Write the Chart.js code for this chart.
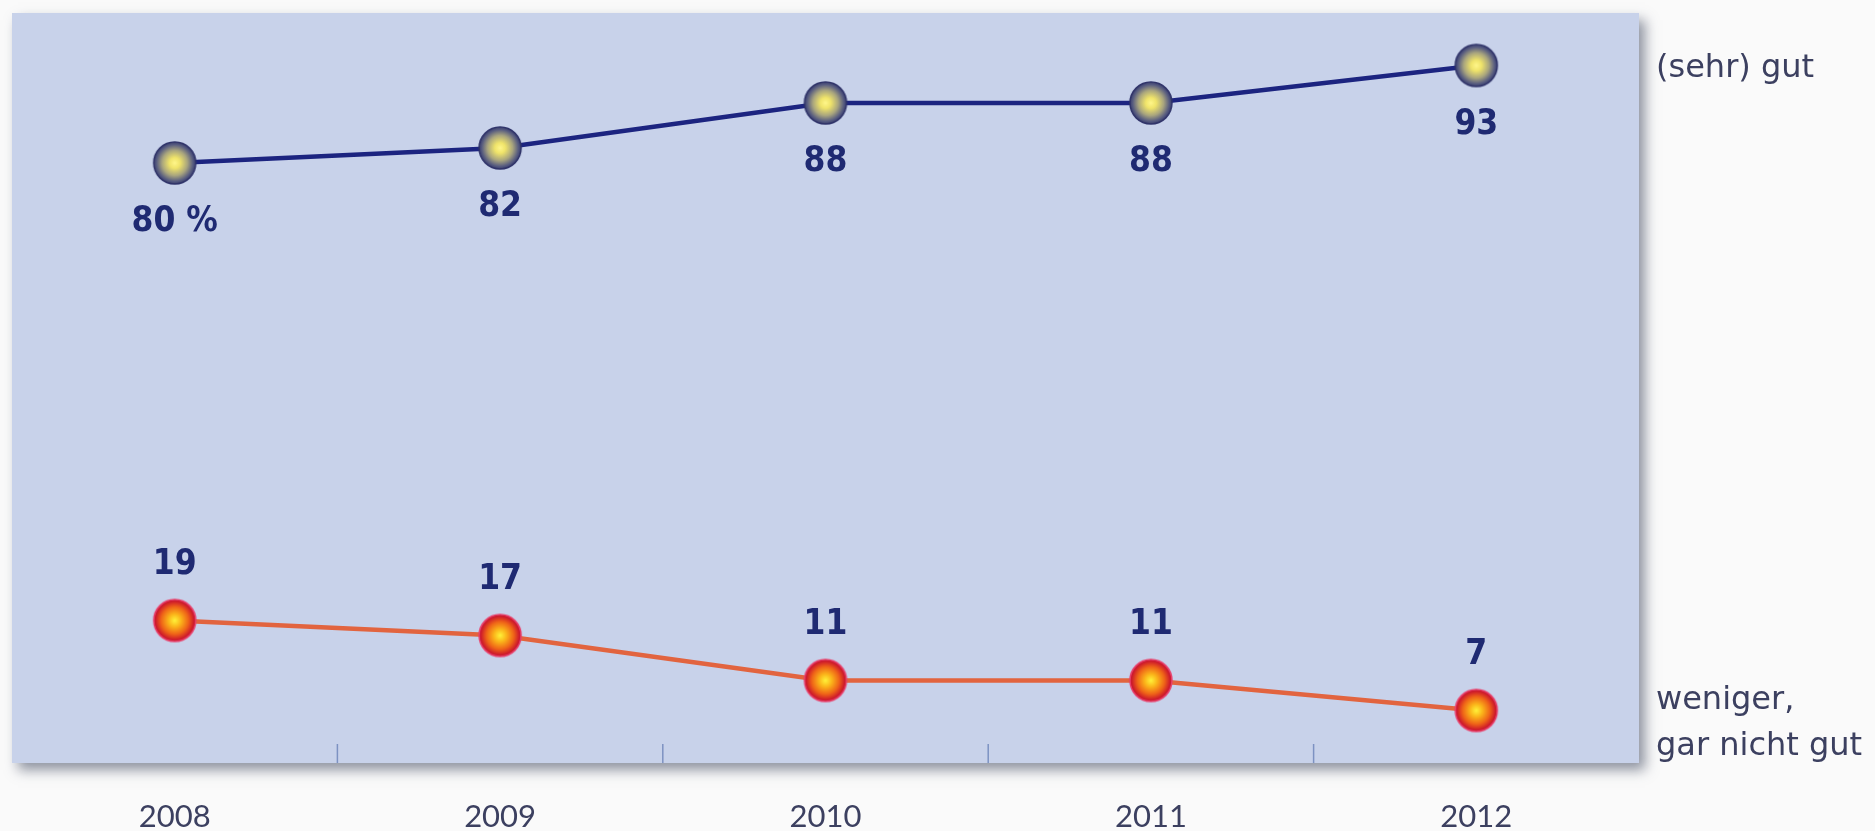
<!DOCTYPE html>
<html>
<head>
<meta charset="utf-8">
<script src="https://cdn.jsdelivr.net/npm/chart.js@4.4.1/dist/chart.umd.min.js"></script>
<style>
  html, body { margin: 0; padding: 0; background: #fafafa; }
  #wrap { width: 1875px; height: 831px; }
</style>
</head>
<body>
<div id="wrap"><canvas id="c" width="1875" height="831"></canvas></div>
<script>
const categories = ['2008', '2009', '2010', '2011', '2012'];
const goodValues = [80, 82, 88, 88, 93];
const poorValues = [19, 17, 11, 11, 7];
const goodName = '(sehr) gut';
const poorName = ['weniger,', 'gar nicht gut'];
const goodSuffix = [' %', '', '', '', ''];
const yMin = 0;
const yMax = 100;

function makeMarker(r, stops, outline) {
  const s = 2 * r + 4;
  const cv = document.createElement('canvas');
  cv.width = s; cv.height = s;
  const g = cv.getContext('2d');
  const c = s / 2;
  const grad = g.createRadialGradient(c, c, 0, c, c, r);
  stops.forEach(([o, col]) => grad.addColorStop(o, col));
  g.beginPath();
  g.arc(c, c, r, 0, Math.PI * 2);
  g.fillStyle = grad;
  g.fill();
  g.lineWidth = 1.5;
  g.strokeStyle = outline;
  g.stroke();
  return cv;
}

const goodMarker = makeMarker(21, [[0, '#fff68a'], [0.25, '#f0e46a'], [0.6, '#a9a57e'], [0.88, '#555a80'], [1, '#3a3e6c']], '#30346a');
const poorMarker = makeMarker(21, [[0, '#fff23a'], [0.3, '#fbb51a'], [0.65, '#ef6418'], [0.9, '#d01e2a'], [1, '#c2143a']], '#e8406a');

const LABEL_FONT = 'bold 35px "Liberation Sans Narrow", "DejaVu Sans Condensed", "Roboto", sans-serif';
const TEXT_FONT = '32px "DejaVu Sans", sans-serif';
const TEXT_COLOR = '#3c4060';

const decor = {
  id: 'decor',
  beforeDraw(chart) {
    const { ctx, chartArea: a } = chart;
    ctx.save();
    ctx.shadowColor = 'rgba(70,78,100,0.6)';
    ctx.shadowBlur = 12;
    ctx.shadowOffsetX = 6;
    ctx.shadowOffsetY = 7;
    ctx.fillStyle = '#c8d2ea';
    ctx.fillRect(a.left, a.top, a.right - a.left, a.bottom - a.top);
    ctx.restore();
    // mid-category tick marks
    const xs = chart.scales.x;
    ctx.save();
    ctx.strokeStyle = '#7d92c2';
    ctx.lineWidth = 1.5;
    for (let i = 0; i < categories.length - 1; i++) {
      const x = (xs.getPixelForValue(i) + xs.getPixelForValue(i + 1)) / 2;
      ctx.beginPath();
      ctx.moveTo(x, a.bottom - 19);
      ctx.lineTo(x, a.bottom);
      ctx.stroke();
    }
    ctx.restore();
  },
  afterDatasetsDraw(chart) {
    const { ctx, chartArea: a } = chart;
    const m0 = chart.getDatasetMeta(0).data;
    const m1 = chart.getDatasetMeta(1).data;
    ctx.save();
    ctx.font = LABEL_FONT;
    ctx.fillStyle = '#1f2a72';
    ctx.textAlign = 'center';
    ctx.textBaseline = 'middle';
    m0.forEach((p, i) => ctx.fillText(goodValues[i] + goodSuffix[i], p.x, p.y + 59));
    m1.forEach((p, i) => ctx.fillText(String(poorValues[i]), p.x, p.y - 56));
    ctx.font = TEXT_FONT;
    ctx.fillStyle = TEXT_COLOR;
    ctx.textAlign = 'left';
    const lx = a.right + 17;
    const g = m0[m0.length - 1];
    ctx.fillText(goodName, lx, g.y + 3);
    const q = m1[m1.length - 1];
    ctx.fillText(poorName[0], lx, q.y - 10);
    ctx.fillText(poorName[1], lx, q.y + 36);
    ctx.restore();
  }
};

new Chart(document.getElementById('c'), {
  type: 'line',
  data: {
    labels: categories,
    datasets: [
      {
        data: goodValues,
        borderColor: '#1c2480',
        borderWidth: 4.5,
        tension: 0,
        pointStyle: goodMarker,
        pointRadius: 21
      },
      {
        data: poorValues,
        borderColor: '#e2643f',
        borderWidth: 4.5,
        tension: 0,
        pointStyle: poorMarker,
        pointRadius: 21
      }
    ]
  },
  options: {
    responsive: false,
    animation: false,
    events: [],
    layout: { autoPadding: false, padding: { top: 13, left: 12, right: 236, bottom: 0 } },
    plugins: { legend: { display: false }, tooltip: { enabled: false } },
    scales: {
      x: {
        offset: true,
        grid: { display: false, drawTicks: false },
        border: { display: false },
        afterFit(scale) { scale.height = 68; },
        ticks: {
          padding: 35,
          color: TEXT_COLOR,
          font: { family: 'Lato, "Open Sans", sans-serif', size: 31, lineHeight: 1.2 }
        }
      },
      y: {
        display: false,
        min: yMin,
        max: yMax
      }
    }
  },
  plugins: [decor]
});
</script>
</body>
</html>
